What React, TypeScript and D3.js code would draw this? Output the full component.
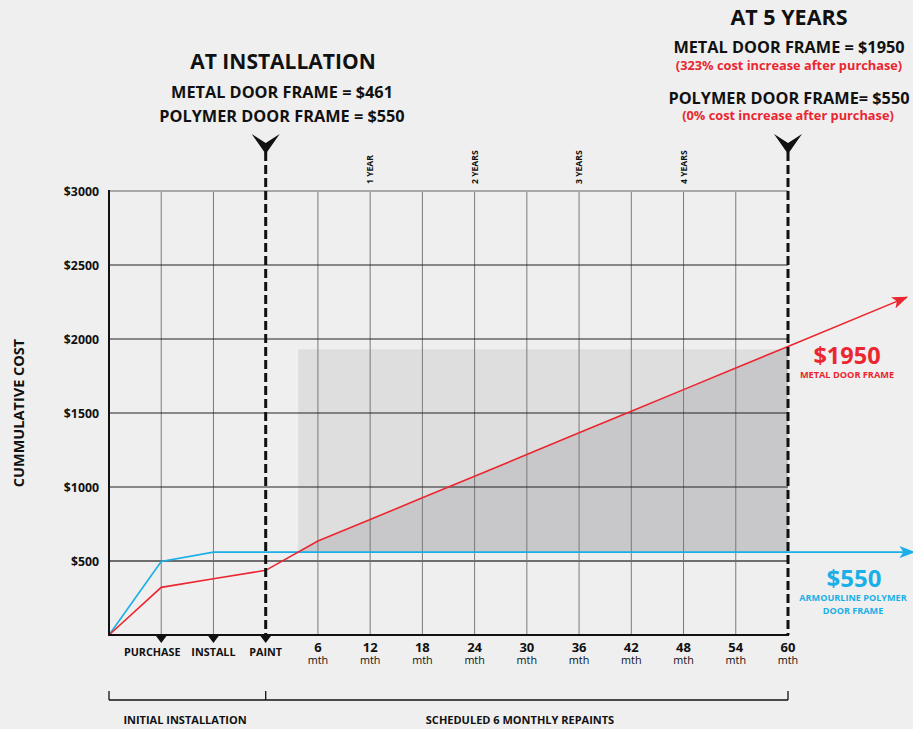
import { useEffect, useRef } from 'react';
import * as d3 from 'd3';

// x positions are indices into these labels (0 = origin)
const stageLabels = ['', 'PURCHASE', 'INSTALL', 'PAINT'];
const monthLabels = ['6', '12', '18', '24', '30', '36', '42', '48', '54', '60'];
const metalCost = [0, 322, 380, 437, 635, 780, 927, 1073, 1219, 1366, 1512, 1658, 1804, 1950];
const polymerCost = [0, 497, 560, 560, 560, 560, 560, 560, 560, 560, 560, 560, 560, 560];
const yTicks = [500, 1000, 1500, 2000, 2500, 3000];
const yearMonths = [12, 24, 36, 48];
const yearLabels = ['1 YEAR', '2 YEARS', '3 YEARS', '4 YEARS'];

const RED = '#eb2630';
const BLUE = '#1aafe6';
const FONT = '"Open Sans", sans-serif';

export default function App() {
  const svgRef = useRef<SVGSVGElement>(null);

  useEffect(() => {
    document.body.style.margin = '0';
    if (!svgRef.current) return;
    const svg = d3.select(svgRef.current);
    svg.selectAll('*').remove();

    const n = metalCost.length - 1;
    const x = d3.scaleLinear().domain([0, n]).range([109, 788]);
    const y = d3.scaleLinear().domain([0, 3000]).range([635, 191]);
    const top = y(3000);
    const bottom = y(0);
    const paintIdx = stageLabels.length - 1;

    svg.append('rect').attr('width', 913).attr('height', 729).attr('fill', '#efefef');

    const defs = svg.append('defs');
    [['arrRed', RED], ['arrBlue', BLUE]].forEach(([id, c]) => {
      defs.append('marker')
        .attr('id', id)
        .attr('viewBox', '0 0 16 12')
        .attr('refX', 15).attr('refY', 6)
        .attr('markerWidth', 16).attr('markerHeight', 12)
        .attr('markerUnits', 'userSpaceOnUse')
        .attr('orient', 'auto')
        .append('path')
        .attr('d', 'M0,0 L16,6 L0,12 L4,6 Z')
        .attr('fill', c);
    });

    // crossing point of the two lines
    let crossIdx = paintIdx;
    for (let i = 0; i < n; i++) {
      const d0 = metalCost[i] - polymerCost[i];
      const d1 = metalCost[i + 1] - polymerCost[i + 1];
      if (i >= 2 && d0 < 0 && d1 >= 0) {
        crossIdx = i + (-d0) / (d1 - d0);
        break;
      }
    }
    const blueLevel = polymerCost[n];

    // light shaded block
    svg.append('rect')
      .attr('x', x(crossIdx)).attr('y', y(metalCost[n] - 20))
      .attr('width', x(n) - x(crossIdx))
      .attr('height', y(blueLevel) - y(metalCost[n] - 20))
      .attr('fill', '#dedede');

    // dark region between lines
    const pts: [number, number][] = [[crossIdx, blueLevel]];
    for (let i = Math.ceil(crossIdx); i <= n; i++) pts.push([i, metalCost[i]]);
    const area = d3.area<[number, number]>()
      .x(d => x(d[0])).y0(y(blueLevel)).y1(d => y(d[1]));
    svg.append('path').attr('d', area(pts)).attr('fill', '#c8c8ca');

    // vertical grid
    for (let i = 1; i < n; i++) {
      if (i === paintIdx) continue;
      svg.append('line')
        .attr('x1', x(i)).attr('x2', x(i)).attr('y1', top).attr('y2', bottom)
        .attr('stroke', '#7a7a7a').attr('stroke-width', 1);
    }
    // horizontal grid
    yTicks.forEach(t => {
      const light = t === 3000;
      const mid = t === 500;
      svg.append('line')
        .attr('x1', x(0)).attr('x2', x(n)).attr('y1', y(t)).attr('y2', y(t))
        .attr('stroke', light ? '#a8a8a8' : mid ? '#6e6e6e' : '#222')
        .attr('stroke-width', light || mid ? 2 : 1.2);
      svg.append('text')
        .attr('x', 99).attr('y', y(t) + 4.5)
        .attr('text-anchor', 'end')
        .attr('font-family', FONT).attr('font-weight', 700).attr('font-size', 12.3)
        .attr('fill', '#111')
        .text(`$${t}`);
    });

    // lines
    const line = d3.line<[number, number]>().x(d => x(d[0])).y(d => y(d[1]));
    const slope = metalCost[n] - metalCost[n - 1];
    const redEnd = 15.28;
    const redPts: [number, number][] = metalCost.map((v, i) => [i, v]);
    redPts.push([redEnd, metalCost[n] + slope * (redEnd - n)]);
    const bluePts: [number, number][] = polymerCost.map((v, i) => [i, v]);
    bluePts.push([15.42, blueLevel]);

    svg.append('path').attr('d', line(bluePts)).attr('fill', 'none')
      .attr('stroke', BLUE).attr('stroke-width', 1.6).attr('marker-end', 'url(#arrBlue)');
    svg.append('path').attr('d', line(redPts)).attr('fill', 'none')
      .attr('stroke', RED).attr('stroke-width', 1.6).attr('marker-end', 'url(#arrRed)');

    // axes
    svg.append('line').attr('x1', x(0)).attr('x2', x(0)).attr('y1', top - 1).attr('y2', bottom + 1)
      .attr('stroke', '#111').attr('stroke-width', 2);
    svg.append('line').attr('x1', x(0) - 1).attr('x2', x(n) + 1).attr('y1', bottom).attr('y2', bottom)
      .attr('stroke', '#111').attr('stroke-width', 2);

    // dashed markers at installation and 5 years
    [paintIdx, n].forEach(i => {
      const cx = x(i);
      svg.append('line').attr('x1', cx).attr('x2', cx).attr('y1', 152).attr('y2', bottom)
        .attr('stroke', '#111').attr('stroke-width', 3).attr('stroke-dasharray', '9,4');
      svg.append('path')
        .attr('d', `M${cx - 14},134 L${cx},143 L${cx + 14},134 L${cx},154 Z`)
        .attr('fill', '#111');
    });

    // stage triangles and labels
    stageLabels.forEach((s, i) => {
      if (!s) return;
      svg.append('path')
        .attr('d', `M${x(i) - 6},${bottom} L${x(i) + 6},${bottom} L${x(i)},${bottom + 8} Z`)
        .attr('fill', '#111');
      svg.append('text')
        .attr('x', x(i) - (i === 1 ? 9 : 0)).attr('y', 656)
        .attr('text-anchor', 'middle')
        .attr('font-family', FONT).attr('font-weight', 700).attr('font-size', 10.8)
        .attr('fill', '#111').text(s);
    });
    monthLabels.forEach((m, j) => {
      const i = j + stageLabels.length;
      svg.append('text').attr('x', x(i)).attr('y', 652)
        .attr('text-anchor', 'middle')
        .attr('font-family', FONT).attr('font-weight', 700).attr('font-size', 13)
        .attr('fill', '#111').text(m);
      svg.append('text').attr('x', x(i)).attr('y', 664)
        .attr('text-anchor', 'middle')
        .attr('font-family', FONT).attr('font-size', 10.8)
        .attr('fill', '#111').text('mth');
    });

    // year labels
    yearMonths.forEach((m, j) => {
      const i = monthLabels.indexOf(String(m)) + stageLabels.length;
      svg.append('text')
        .attr('transform', `translate(${x(i) + 3},184) rotate(-90)`)
        .attr('font-family', FONT).attr('font-weight', 700).attr('font-size', 8.6)
        .attr('fill', '#111').text(yearLabels[j]);
    });

    // brackets
    const by = 700;
    svg.append('line').attr('x1', x(0)).attr('x2', x(n)).attr('y1', by).attr('y2', by)
      .attr('stroke', '#111').attr('stroke-width', 1.3);
    [0, paintIdx, n].forEach(i => {
      svg.append('line').attr('x1', x(i)).attr('x2', x(i)).attr('y1', by - 9).attr('y2', by)
        .attr('stroke', '#111').attr('stroke-width', 1.3);
    });
    const bracketText = (tx: number, t: string) => svg.append('text')
      .attr('x', tx).attr('y', 724).attr('text-anchor', 'middle')
      .attr('font-family', FONT).attr('font-weight', 700).attr('font-size', 11)
      .attr('fill', '#111').text(t);
    bracketText(185, 'INITIAL INSTALLATION');
    bracketText(520, 'SCHEDULED 6 MONTHLY REPAINTS');

    // y axis title
    svg.append('text')
      .attr('transform', `translate(24,${(top + bottom) / 2}) rotate(-90)`)
      .attr('text-anchor', 'middle')
      .attr('font-family', FONT).attr('font-weight', 700).attr('font-size', 14.5)
      .attr('fill', '#111').text('CUMMULATIVE COST');

    const txt = (tx: number, ty: number, t: string, size: number, color = '#111', weight = 700) =>
      svg.append('text').attr('x', tx).attr('y', ty).attr('text-anchor', 'middle')
        .attr('font-family', FONT).attr('font-weight', weight).attr('font-size', size)
        .attr('fill', color).text(t);

    // headings
    txt(283, 69, 'AT INSTALLATION', 21);
    txt(282, 98, 'METAL DOOR FRAME = $461', 16.3);
    txt(282, 122, 'POLYMER DOOR FRAME = $550', 16.3);

    txt(789, 25, 'AT 5 YEARS', 21.5);
    txt(789, 53, 'METAL DOOR FRAME = $1950', 16.3);
    txt(789, 70, '(323% cost increase after purchase)', 12.8, RED);
    txt(789, 104, 'POLYMER DOOR FRAME= $550', 16.3);
    txt(788, 120, '(0% cost increase after purchase)', 12.8, RED);

    // end labels
    txt(847, 364, '$1950', 23.5, RED);
    txt(847, 378, 'METAL DOOR FRAME', 9.2, RED);
    txt(854, 587, '$550', 24, BLUE);
    txt(853, 601, 'ARMOURLINE POLYMER', 9.1, BLUE);
    txt(853, 614, 'DOOR FRAME', 9.1, BLUE);
  }, []);

  return (
    <svg ref={svgRef} width={913} height={729} style={{ display: 'block' }} />
  );
}
